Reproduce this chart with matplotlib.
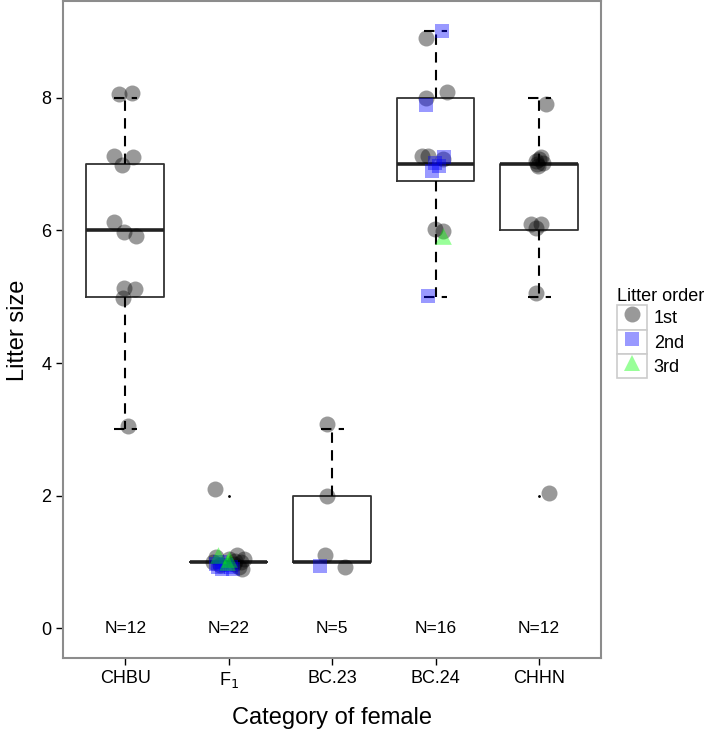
import numpy as np
import matplotlib.pyplot as plt
from matplotlib.lines import Line2D
from matplotlib.patches import Rectangle
from matplotlib.legend_handler import HandlerLine2D

plt.rcParams['font.family'] = ['Liberation Sans', 'DejaVu Sans']

# categories of female and sample sizes
categories = ['CHBU', 'F$_1$', 'BC.23', 'BC.24', 'CHHN']
n_labels = ['N=12', 'N=22', 'N=5', 'N=16', 'N=12']

# litter size per female (1 = 1st, 2 = 2nd, 3 = 3rd litter), with the jitter
chbu_size = [8, 8, 7, 7, 7, 6, 6, 6, 5, 5, 5, 3]
chbu_order = [1] * 12
chbu_dx = [-0.06, 0.07, -0.11, 0.08, -0.03, -0.11, -0.01, 0.10, -0.01, 0.09, -0.02, 0.03]
chbu_dy = [0.05, 0.07, 0.12, 0.10, -0.02, 0.12, -0.02, -0.08, 0.13, 0.11, -0.02, 0.05]

f1_size = [2, 1, 1, 1, 1, 1, 1, 1, 1, 1, 1, 1,
           1, 1, 1, 1, 1, 1, 1,
           1, 1, 1]
f1_order = [1] * 12 + [2] * 7 + [3] * 3
f1_dx = [-0.13, -0.12, -0.08, 0.08, 0.12, 0.10, 0.15, 0.05, -0.15, 0.13, 0.00, 0.06,
         -0.10, -0.06, -0.03, -0.12, 0.02, -0.08, 0.04,
         -0.10, 0.00, -0.02]
f1_dy = [0.10, 0.08, -0.05, 0.10, 0.00, -0.08, 0.05, -0.03, 0.00, -0.10, 0.05, 0.02,
         -0.08, -0.10, -0.05, -0.03, -0.07, 0.00, -0.10,
         0.10, 0.05, 0.00]

bc23_size = [3, 2, 1, 1, 1]
bc23_order = [1, 1, 1, 1, 2]
bc23_dx = [-0.05, -0.05, -0.07, 0.12, -0.12]
bc23_dy = [0.08, 0.00, 0.10, -0.07, -0.06]

bc24_size = [9, 9, 8, 8, 8, 7, 7, 7, 7, 7, 7, 7, 6, 6, 6, 5]
bc24_order = [1, 2, 1, 2, 1, 1, 1, 1, 2, 2, 2, 2, 1, 1, 3, 2]
bc24_dx = [-0.09, 0.06, -0.09, -0.09, 0.11, -0.13, -0.07, 0.07, 0.08, -0.04, 0.03, -0.01,
           -0.01, 0.07, 0.07, -0.07]
bc24_dy = [-0.10, 0.00, 0.00, -0.11, 0.09, 0.12, 0.12, 0.08, 0.10, -0.10, -0.03, 0.02,
           0.02, -0.01, -0.08, 0.01]

chhn_size = [8, 7, 7, 7, 7, 7, 7, 6, 6, 6, 5, 2]
chhn_order = [1] * 12
chhn_dx = [0.07, -0.03, 0.00, 0.04, -0.01, 0.02, -0.02, -0.08, 0.02, -0.03, -0.03, 0.10]
chhn_dy = [-0.10, 0.05, 0.08, 0.02, -0.03, 0.10, 0.00, 0.10, 0.10, 0.04, 0.06, 0.04]

sizes = [chbu_size, f1_size, bc23_size, bc24_size, chhn_size]
orders = [chbu_order, f1_order, bc23_order, bc24_order, chhn_order]
dxs = [chbu_dx, f1_dx, bc23_dx, bc24_dx, chhn_dx]
dys = [chbu_dy, f1_dy, bc23_dy, bc24_dy, chhn_dy]

order_labels = ['1st', '2nd', '3rd']
order_colors = ['black', 'blue', '#00ff00']
order_markers = ['o', 's', '^']
order_msize = [11.5, 10, 12]

fig = plt.figure(figsize=(7.09, 7.33), dpi=100)
ax = fig.add_axes([0.089, 0.102, 0.759, 0.896])

pos = np.arange(1, len(categories) + 1)

# boxplots (base-R like: dashed whiskers with caps)
dash = (0, (5, 3.5))
bp = ax.boxplot(sizes, positions=pos, widths=0.75, whis=1.5, capwidths=0.22,
                boxprops=dict(color='#333333', linewidth=1.3),
                medianprops=dict(color='#222222', linewidth=2.6),
                whiskerprops=dict(color='black', linewidth=1.5, linestyle=dash),
                capprops=dict(color='black', linewidth=1.5, linestyle=dash),
                flierprops=dict(marker='.', markersize=2, markerfacecolor='black',
                                markeredgecolor='black'),
                zorder=2)

# jittered points
for i in range(len(categories)):
    s = np.array(sizes[i], dtype=float)
    o = np.array(orders[i])
    x = pos[i] + np.array(dxs[i])
    y = s + np.array(dys[i])
    for k in range(3):
        m = o == k + 1
        if m.any():
            ax.scatter(x[m], y[m], marker=order_markers[k], s=order_msize[k] ** 2,
                       color=order_colors[k], alpha=0.4, linewidths=0, zorder=3)

# sample sizes at y = 0
for i in range(len(categories)):
    ax.text(pos[i], 0, n_labels[i], ha='center', va='center', fontsize=12.5)

ax.set_xlim(0.4, 5.6)
ax.set_ylim(-0.45, 9.45)
ax.set_yticks([0, 2, 4, 6, 8])
ax.set_xticks(pos)
ax.set_xticklabels(categories)
ax.tick_params(axis='both', labelsize=13, length=5, width=1, color='black', labelcolor='black')
for sp in ax.spines.values():
    sp.set_color('#8c8c8c')
    sp.set_linewidth(1.5)

ax.set_xlabel('Category of female', fontsize=17, labelpad=12)
ax.set_ylabel('Litter size', fontsize=17, labelpad=9)


class KeyBoxHandler(HandlerLine2D):
    def create_artists(self, legend, orig_handle, xdescent, ydescent, width, height,
                       fontsize, trans):
        arts = super().create_artists(legend, orig_handle, xdescent, ydescent, width,
                                      height, fontsize, trans)
        box = Rectangle((-xdescent, -ydescent), width, height, facecolor='white',
                        edgecolor='#cccccc', linewidth=1.2, transform=trans)
        return [box] + arts


handles = [Line2D([], [], linestyle='none', marker=order_markers[k], markersize=order_msize[k],
                  color=order_colors[k], alpha=0.4, markeredgewidth=0)
           for k in range(3)]
leg = fig.legend(handles, order_labels, title='Litter order', loc='upper left',
                 bbox_to_anchor=(0.857, 0.619), frameon=False, fontsize=13,
                 title_fontsize=13, handlelength=1.7, handleheight=1.7, labelspacing=0.0,
                 handletextpad=0.35, borderpad=0, alignment='left', numpoints=1,
                 handler_map={Line2D: KeyBoxHandler(numpoints=1)})

fig.savefig('out.png', dpi=100)
